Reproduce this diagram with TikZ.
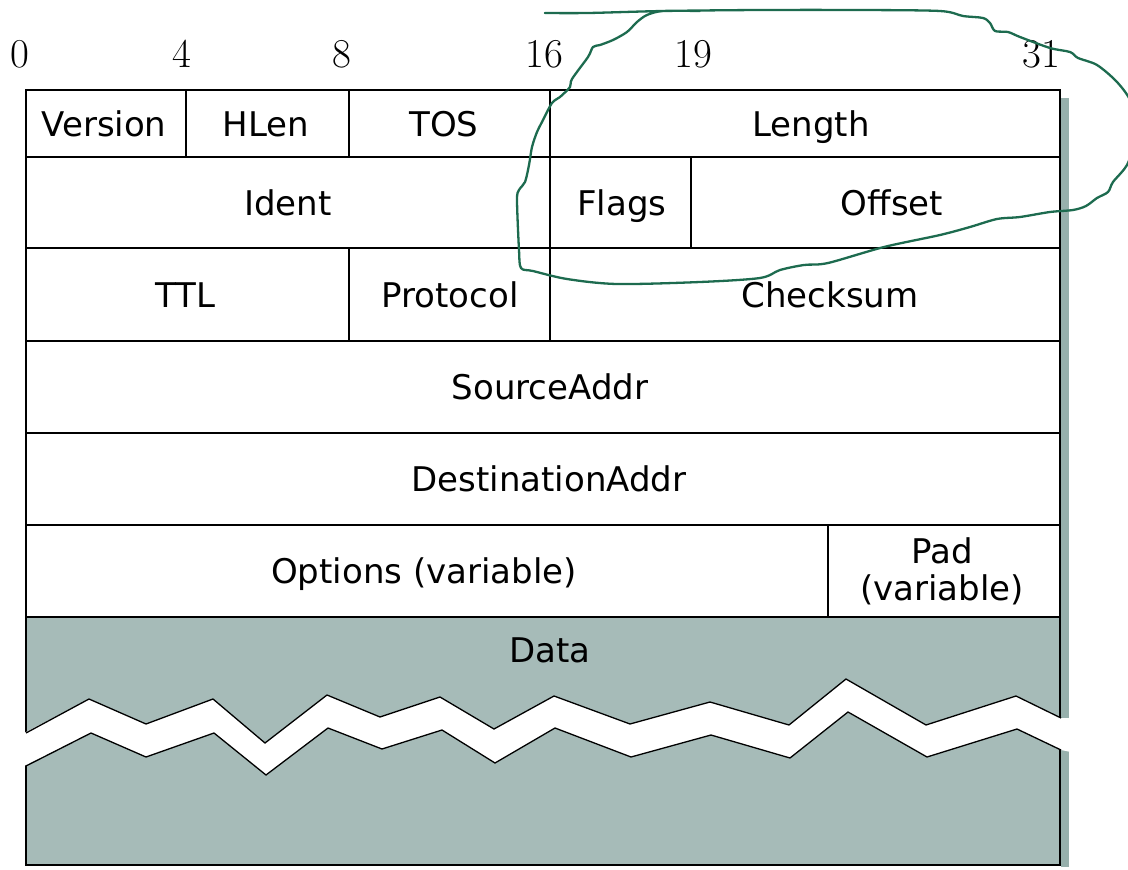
\documentclass[tikz,border=0pt]{standalone}
\usepackage{fontspec}
\newfontfamily\fieldfont{DejaVu Sans}

\definecolor{datafill}{HTML}{A6BBB8}
\definecolor{shadowcol}{HTML}{97B0AC}
\definecolor{inkgreen}{HTML}{1D6B4F}

\tikzset{
  fieldbox/.style={draw=black, line width=1.3pt, rectangle, inner sep=0pt},
  fieldtext/.style={inner sep=0pt, text height=25pt, text depth=0pt,
    font=\fieldfont\fontsize{34}{40}\selectfont},
  bitnum/.style={inner sep=0pt, anchor=base, font=\fontsize{41}{44}\selectfont},
  breakline/.style={draw=black, line width=1.3pt, line join=miter},
  handloop/.style={draw=inkgreen, line width=2.3pt, line cap=round, line join=round}
}

% one header field: name, x1, y1, x2, y2, text centre x, text
\newcommand\hdrfield[7]{%
  \node[fieldbox, minimum width={#4-#2}, minimum height={#5-#3}]
    (#1) at ({(#2+#4)/2},{(#3+#5)/2}) {};
  \node[fieldtext] (#1-t) at (#6,{(#3+#5)/2}) {#7};}

\begin{document}
\begin{tikzpicture}[x=1pt,y=-1pt]
\useasboundingbox (0,0) rectangle (1128,870);

% drop shadow on the right
\fill[shadowcol] (1061,98) rectangle (1069,867);

% bit positions
\node[bitnum] (b0)  at (20,67)   {0};
\node[bitnum] (b4)  at (182,67)  {4};
\node[bitnum] (b8)  at (342,67)  {8};
\node[bitnum] (b16) at (544,67)  {16};
\node[bitnum] (b19) at (693,67)  {19};
\node[bitnum] (b31) at (1041,67) {31};

% row 1
\hdrfield{version}{26}{90}{186}{157}{104}{Version}
\hdrfield{hlen}{186}{90}{349}{157}{266}{HLen}
\hdrfield{tos}{349}{90}{550}{157}{444}{TOS}
\hdrfield{length}{550}{90}{1060}{157}{811}{Length}
% row 2
\hdrfield{ident}{26}{157}{550}{248}{288}{Ident}
\hdrfield{flags}{550}{157}{691}{248}{622}{Flags}
\hdrfield{offset}{691}{157}{1060}{248}{892}{Offset}
% row 3
\hdrfield{ttl}{26}{248}{349}{341}{185}{TTL}
\hdrfield{protocol}{349}{248}{550}{341}{450}{Protocol}
\hdrfield{checksum}{550}{248}{1060}{341}{830}{Checksum}
% rows 4 and 5
\hdrfield{src}{26}{341}{1060}{433}{550}{SourceAddr}
\hdrfield{dst}{26}{433}{1060}{525}{549}{DestinationAddr}
% row 6
\hdrfield{options}{26}{525}{828}{617}{424}{Options (variable)}
\hdrfield{pad}{828}{525}{1060}{617}{942}{}
\node[fieldtext] (padA) at (942,550.5) {Pad};
\node[fieldtext] (padB) at (942,587.5) {(variable)};

% data area
\node[fieldbox, fill=datafill, minimum width=1034, minimum height=248]
  (data) at (543,741) {};
\node[fieldtext] (datatext) at (550,649.5) {Data};

% torn gap across the data area
\fill[white]
  (24,733) -- (89,699) -- (146,724) -- (213,699) -- (265,743) -- (327,695)
  -- (380,717) -- (440,697) -- (494,729) -- (554,696) -- (630,724)
  -- (710,702) -- (789,725) -- (846,679) -- (926,725) -- (1016,696)
  -- (1061,718) -- (1071,718) -- (1071,752) -- (1061,750)
  -- (1017,729) -- (927,757) -- (848,712) -- (790,758) -- (711,735)
  -- (631,757) -- (555,728) -- (495,763) -- (442,730) -- (382,749)
  -- (328,728) -- (266,775) -- (214,733) -- (146,757) -- (91,733)
  -- (24,766) -- cycle;
\draw[breakline]
  (26,733) -- (89,699) -- (146,724) -- (213,699) -- (265,743) -- (327,695)
  -- (380,717) -- (440,697) -- (494,729) -- (554,696) -- (630,724)
  -- (710,702) -- (789,725) -- (846,679) -- (926,725) -- (1016,696)
  -- (1061,718);
\draw[breakline]
  (26,766) -- (91,733) -- (146,757) -- (214,733) -- (266,775) -- (328,728)
  -- (382,749) -- (442,730) -- (495,763) -- (555,728) -- (631,757)
  -- (711,735) -- (790,758) -- (848,712) -- (927,757) -- (1017,729)
  -- (1061,750);

% hand-drawn loop around Length, Flags and Offset
\draw[handloop] (545,13) -- (590,13);
\draw[handloop] plot[smooth, tension=0.5] coordinates {
  (545,13) (588,13) (663,11) (760,10) (860,10) (940,11) (963,16)
  (983,18) (990,23) (995,31) (1008,32) (1020,37) (1050,48) (1070,52)
  (1078,58) (1097,65) (1117,82) (1131,102) (1136,130) (1128,163)
  (1113,182) (1108,192) (1097,198) (1086,206) (1073,210) (1050,212)
  (1020,217) (997,219) (970,227) (940,235) (884,247) (828,263) (804,265)
  (780,270) (760,278) (700,282) (617,284) (567,279) (533,271) (521,268)
  (519,250) (517,200) (519,190) (525,182) (529,165) (532,147) (537,132)
  (542,122) (552,103) (560,97) (570,87) (572,79) (588,57) (593,47)
  (600,45) (613,40) (627,32) (637,22) (647,15) (663,11) (700,11)};
\end{tikzpicture}
\end{document}
